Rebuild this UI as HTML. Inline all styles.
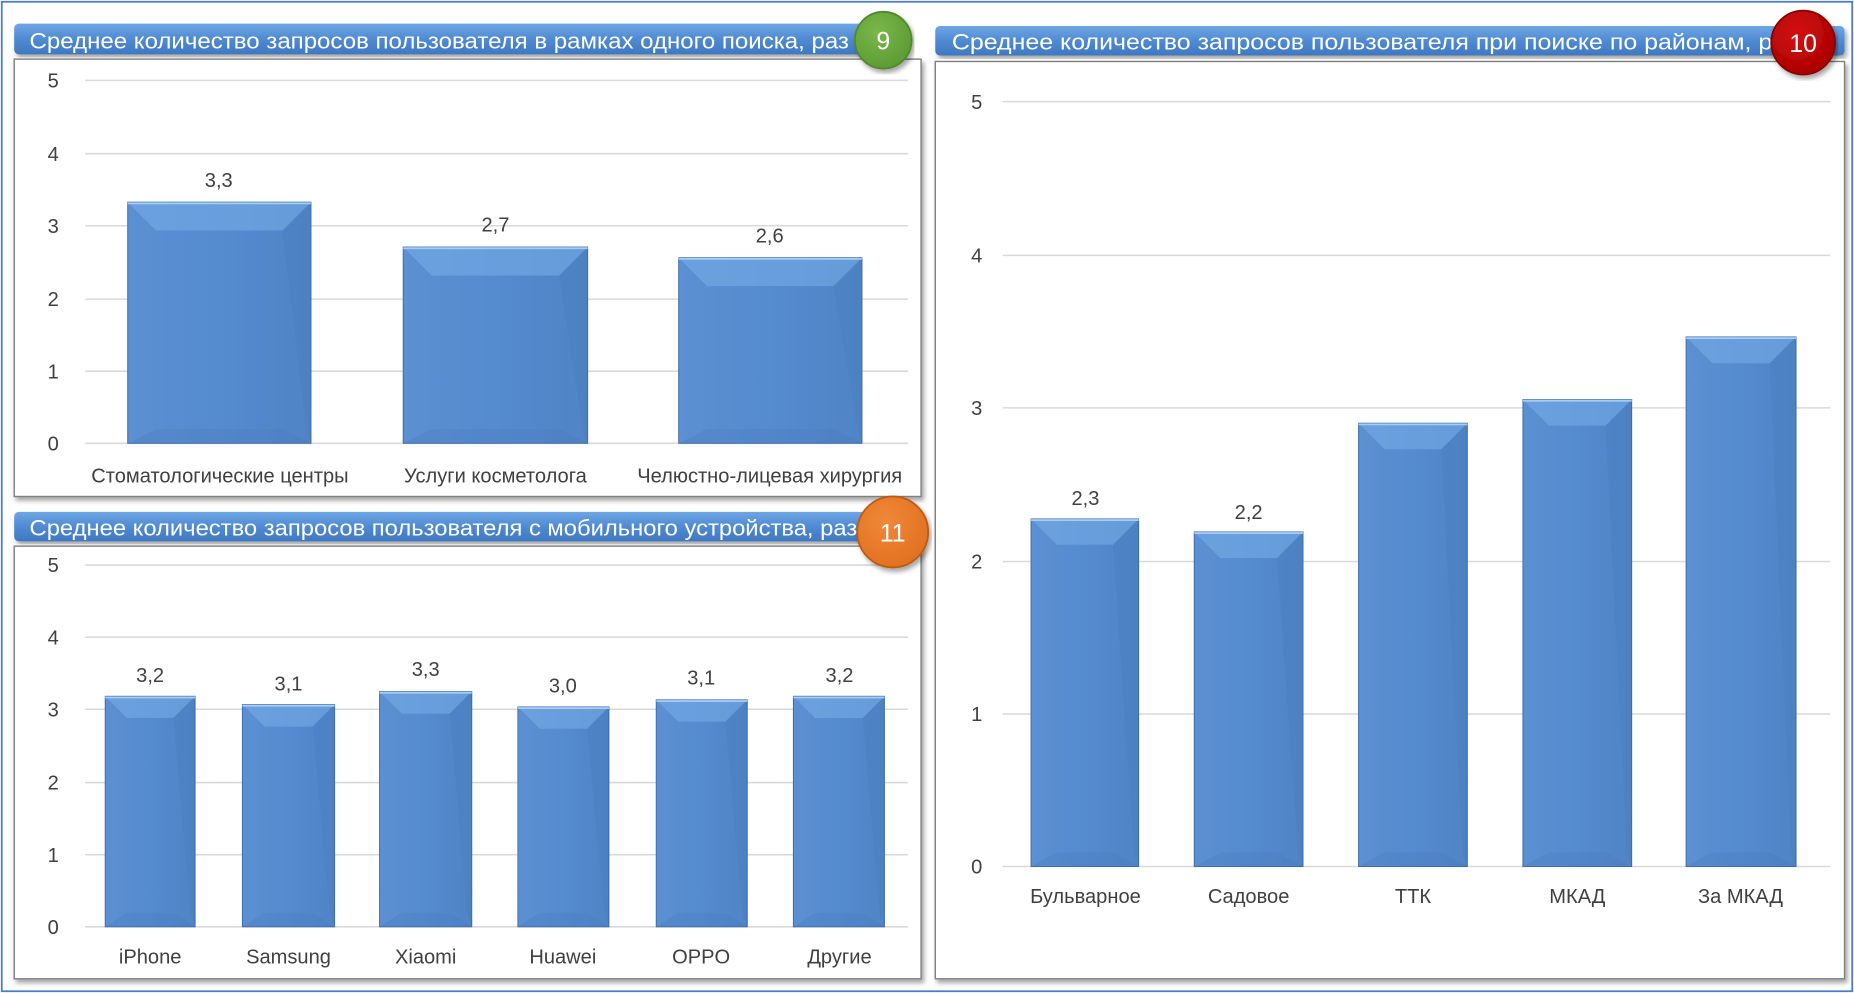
<!DOCTYPE html>
<html><head><meta charset="utf-8">
<style>
html,body{margin:0;padding:0;background:#fff;}
svg{display:block;}
text{font-family:"Liberation Sans Narrow","Liberation Sans",sans-serif;}
</style></head>
<body>
<svg id="s" width="1854" height="993" viewBox="0 0 1568 840" preserveAspectRatio="none" xmlns="http://www.w3.org/2000/svg">
<defs>
<linearGradient id="tb" x1="0" y1="0" x2="0" y2="1">
<stop offset="0" stop-color="#6fa6e4"/><stop offset="0.5" stop-color="#4f8ad2"/><stop offset="1" stop-color="#3f78c0"/>
</linearGradient>
<linearGradient id="bar" x1="0" y1="0" x2="1" y2="0">
<stop offset="0" stop-color="#5b90d2"/><stop offset="0.5" stop-color="#558bcf"/><stop offset="1" stop-color="#4f84c6"/>
</linearGradient>
<filter id="sh" x="-5%" y="-5%" width="110%" height="115%"><feDropShadow dx="2" dy="3" stdDeviation="2" flood-color="#000" flood-opacity="0.35"/></filter>
<radialGradient id="g9" cx="0.4" cy="0.35" r="0.7"><stop offset="0" stop-color="#7ab84a"/><stop offset="1" stop-color="#5b9a32"/></radialGradient>
<radialGradient id="g10" cx="0.4" cy="0.35" r="0.7"><stop offset="0" stop-color="#d41010"/><stop offset="1" stop-color="#a80000"/></radialGradient>
<radialGradient id="g11" cx="0.4" cy="0.35" r="0.7"><stop offset="0" stop-color="#f08838"/><stop offset="1" stop-color="#e07020"/></radialGradient>
</defs>
<rect x="1.5" y="1.5" width="1565" height="837" fill="#fff" stroke="#4a7bd0" stroke-width="1.5"/>

<!-- Chart 9 -->
<rect x="12" y="50" width="767" height="370" fill="#fff" stroke="#7f7f7f" stroke-width="1.2" filter="url(#sh)"/>
<rect x="12" y="20" width="720" height="26" rx="4" fill="url(#tb)" filter="url(#sh)"/>
<text x="25" y="41" font-size="19" fill="#fff" textLength="693" lengthAdjust="spacingAndGlyphs">Среднее количество запросов пользователя в рамках одного поиска, раз</text>
<g stroke="#d9d9d9" stroke-width="1.3">
<line x1="72" x2="768" y1="68" y2="68"/><line x1="72" x2="768" y1="130" y2="130"/><line x1="72" x2="768" y1="191" y2="191"/><line x1="72" x2="768" y1="253" y2="253"/><line x1="72" x2="768" y1="314" y2="314"/><line x1="72" x2="768" y1="375" y2="375"/>
</g>
<g font-size="17" fill="#404040" text-anchor="middle">
<text x="45" y="74">5</text><text x="45" y="136">4</text><text x="45" y="197">3</text><text x="45" y="259">2</text><text x="45" y="320">1</text><text x="45" y="381">0</text>
<text x="185" y="158">3,3</text><text x="419" y="196">2,7</text><text x="651" y="205">2,6</text>
<text x="186" y="408">Стоматологические центры</text><text x="419" y="408">Услуги косметолога</text><text x="651" y="408">Челюстно-лицевая хирургия</text>
</g>

<!-- Chart 11 -->
<rect x="12" y="462" width="767" height="366" fill="#fff" stroke="#7f7f7f" stroke-width="1.2" filter="url(#sh)"/>
<rect x="12" y="433" width="720" height="25" rx="4" fill="url(#tb)" filter="url(#sh)"/>
<text x="25" y="453" font-size="19" fill="#fff" textLength="700" lengthAdjust="spacingAndGlyphs">Среднее количество запросов пользователя с мобильного устройства, раз</text>
<g stroke="#d9d9d9" stroke-width="1.3">
<line x1="72" x2="768" y1="478" y2="478"/><line x1="72" x2="768" y1="539" y2="539"/><line x1="72" x2="768" y1="600" y2="600"/><line x1="72" x2="768" y1="662" y2="662"/><line x1="72" x2="768" y1="723" y2="723"/><line x1="72" x2="768" y1="784" y2="784"/>
</g>
<g font-size="17" fill="#404040" text-anchor="middle">
<text x="45" y="484">5</text><text x="45" y="545">4</text><text x="45" y="606">3</text><text x="45" y="668">2</text><text x="45" y="729">1</text><text x="45" y="790">0</text>
<text x="127" y="577">3,2</text><text x="244" y="584">3,1</text><text x="360" y="572">3,3</text><text x="476" y="586">3,0</text><text x="593" y="579">3,1</text><text x="710" y="577">3,2</text>
<text x="127" y="815">iPhone</text><text x="244" y="815">Samsung</text><text x="360" y="815">Xiaomi</text><text x="476" y="815">Huawei</text><text x="593" y="815">OPPO</text><text x="710" y="815">Другие</text>
</g>

<!-- Chart 10 -->
<rect x="791" y="52" width="769" height="776" fill="#fff" stroke="#7f7f7f" stroke-width="1.2" filter="url(#sh)"/>
<rect x="791" y="22" width="769" height="25" rx="4" fill="url(#tb)" filter="url(#sh)"/>
<text x="805" y="42" font-size="19" fill="#fff" textLength="715" lengthAdjust="spacingAndGlyphs">Среднее количество запросов пользователя при поиске по районам, раз</text>
<g stroke="#d9d9d9" stroke-width="1.3">
<line x1="848" x2="1548" y1="86" y2="86"/><line x1="848" x2="1548" y1="216" y2="216"/><line x1="848" x2="1548" y1="345" y2="345"/><line x1="848" x2="1548" y1="475" y2="475"/><line x1="848" x2="1548" y1="604" y2="604"/><line x1="848" x2="1548" y1="733" y2="733"/>
</g>
<g font-size="17" fill="#404040" text-anchor="middle">
<text x="826" y="92">5</text><text x="826" y="222">4</text><text x="826" y="351">3</text><text x="826" y="481">2</text><text x="826" y="610">1</text><text x="826" y="739">0</text>
<text x="918" y="427">2,3</text><text x="1056" y="439">2,2</text><text x="1195" y="373">2,9</text><text x="1334" y="351">3,1</text><text x="1472" y="305">3,5</text>
<text x="918" y="764">Бульварное</text><text x="1056" y="764">Садовое</text><text x="1195" y="764">ТТК</text><text x="1334" y="764">МКАД</text><text x="1472" y="764">За МКАД</text>
</g>

<g id="bars"></g>

<!-- badges -->
<circle cx="747" cy="34" r="24" fill="url(#g9)" stroke="#4f8a2a" stroke-width="1.5" filter="url(#sh)"/>
<text x="747" y="42" font-size="21" fill="#fff" text-anchor="middle">9</text>
<circle cx="1525" cy="36" r="27" fill="url(#g10)" stroke="#8a0000" stroke-width="1.5" filter="url(#sh)"/>
<text x="1525" y="44" font-size="21" fill="#fff" text-anchor="middle">10</text>
<circle cx="755" cy="450" r="30" fill="url(#g11)" stroke="#c05a10" stroke-width="1.5" filter="url(#sh)"/>
<text x="755" y="458" font-size="21" fill="#fff" text-anchor="middle">11</text>
</svg>
<script>
var bars=[[108,263,171,375],[341,497,209,375],[574,729,218,375],
[89,165,589,784],[205,283,596,784],[321,399,585,784],[438,515,598,784],[555,632,592,784],[671,748,589,784],
[872,963,439,733],[1010,1102,450,733],[1149,1241,358,733],[1288,1380,338,733],[1426,1519,285,733]];
var g=document.getElementById('bars'),h='';
bars.forEach(function(b){var x1=b[0],x2=b[1],t=b[2],bt=b[3],w=x2-x1,d=Math.min(24,w*0.24),bd=12;
h+='<rect x="'+x1+'" y="'+t+'" width="'+w+'" height="'+(bt-t)+'" fill="url(#bar)" stroke="#3c6aa8" stroke-width="0.8"/>';
h+='<polygon points="'+x1+','+t+' '+x2+','+t+' '+(x2-d)+','+(t+d)+' '+(x1+d)+','+(t+d)+'" fill="#7aaeea" opacity="0.55"/>';
h+='<polygon points="'+x2+','+t+' '+x2+','+bt+' '+(x2-4)+','+(bt-bd)+' '+(x2-d)+','+(t+d)+'" fill="#3f70b0" opacity="0.15"/>';
h+='<polygon points="'+x1+','+bt+' '+x2+','+bt+' '+(x2-d)+','+(bt-bd)+' '+(x1+d)+','+(bt-bd)+'" fill="#4a7cbd" opacity="0.3"/>';
h+='<line x1="'+x1+'" x2="'+x2+'" y1="'+(t+1)+'" y2="'+(t+1)+'" stroke="#a8cdf5" stroke-width="1.5"/>';
});
g.innerHTML=h;
</script>
</body></html>
